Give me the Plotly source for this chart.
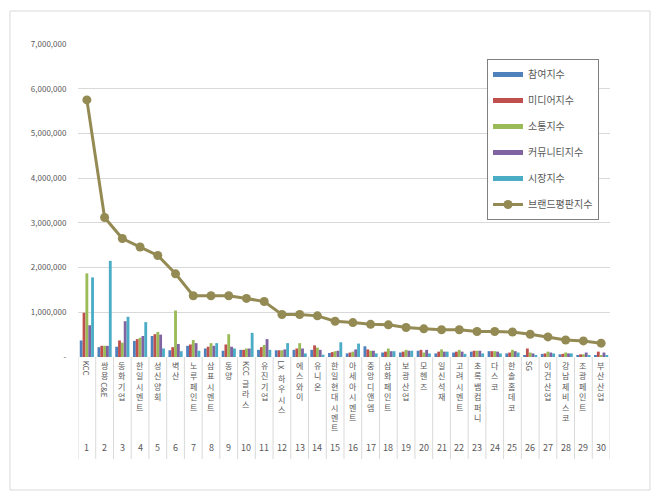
import plotly.graph_objects as go

ranks = list(range(1, 31))
names = ["KCC", "쌍용C&E", "동화기업", "한일시멘트", "성신양회", "벽산", "노루페인트", "삼표시멘트",
         "동양", "KCC글라스", "유진기업", "LX하우시스", "에스와이", "유니온", "한일현대시멘트",
         "아세아시멘트", "중앙디앤엠", "삼화페인트", "보광산업", "모헨즈", "일신석재", "고려시멘트",
         "초록뱀컴퍼니", "다스코", "한솔홈데코", "SG", "이건산업", "강남제비스코", "조광페인트", "부산산업"]

participation = [370000, 220000, 230000, 360000, 470000, 150000, 250000, 190000, 140000, 160000,
                 160000, 150000, 160000, 160000, 90000, 80000, 240000, 100000, 100000, 140000,
                 80000, 100000, 120000, 130000, 80000, 40000, 70000, 60000, 40000, 40000]
media = [990000, 250000, 370000, 400000, 510000, 220000, 280000, 230000, 280000, 160000,
         220000, 150000, 190000, 260000, 110000, 100000, 170000, 120000, 120000, 160000,
         120000, 120000, 140000, 130000, 100000, 190000, 80000, 70000, 60000, 120000]
communication = [1870000, 250000, 320000, 430000, 560000, 1040000, 380000, 310000, 510000, 190000,
                 270000, 150000, 310000, 210000, 130000, 120000, 140000, 190000, 160000, 100000,
                 170000, 160000, 140000, 130000, 160000, 100000, 120000, 100000, 60000, 40000]
community = [710000, 250000, 800000, 470000, 500000, 290000, 310000, 250000, 230000, 190000,
             400000, 170000, 190000, 160000, 140000, 170000, 140000, 130000, 140000, 160000,
             120000, 120000, 140000, 120000, 130000, 80000, 100000, 80000, 100000, 100000]
market = [1780000, 2150000, 900000, 780000, 190000, 130000, 140000, 310000, 190000, 540000,
          160000, 310000, 80000, 50000, 330000, 300000, 80000, 130000, 140000, 80000,
          120000, 70000, 80000, 80000, 100000, 40000, 80000, 80000, 40000, 40000]
brand = [5750000, 3120000, 2650000, 2460000, 2270000, 1860000, 1370000, 1370000, 1370000, 1310000,
         1240000, 950000, 950000, 920000, 800000, 770000, 730000, 720000, 660000, 630000,
         610000, 610000, 570000, 570000, 560000, 510000, 450000, 380000, 360000, 310000]

series_names = ["참여지수", "미디어지수", "소통지수", "커뮤니티지수", "시장지수"]
series_values = [participation, media, communication, community, market]
colors = ["#4F81BD", "#C0504D", "#9BBB59", "#8064A2", "#4BACC6"]
line_name = "브랜드평판지수"
line_color = "#948A54"

y_tickvals = [0, 1000000, 2000000, 3000000, 4000000, 5000000, 6000000, 7000000]
y_ticktext = ["-", "1,000,000", "2,000,000", "3,000,000", "4,000,000", "5,000,000", "6,000,000", "7,000,000"]

# page body has an 8px default margin: lay out in page pixels, minus that offset
OFF = 8
W, H = 660 - OFF, 501 - OFF
L, R, T, B = 78 - OFF, 610 - OFF, 44 - OFF, 357 - OFF  # plot area in figure pixels
FONT = "Noto Sans CJK KR, Noto Sans, sans-serif"
TXT = "#595959"

fig = go.Figure()
for i, (nm, vals, c) in enumerate(zip(series_names, series_values, colors)):
    fig.add_trace(go.Bar(x=ranks, y=vals, name=nm, marker=dict(color=c, line=dict(width=0)),
                         legendgroup=f"g{i}", showlegend=False))
    # legend-only entry drawn as a flat bar, as in the original legend
    fig.add_trace(go.Scatter(x=[None], y=[None], mode="lines", name=nm,
                             line=dict(color=c, width=5), legendgroup=f"g{i}"))
fig.add_trace(go.Scatter(x=ranks, y=brand, name=line_name, mode="lines+markers",
                         line=dict(color=line_color, width=3),
                         marker=dict(color=line_color, size=9),
                         legendgroup="g5"))

def px2paper_x(page_px):
    return (page_px - OFF - L) / (R - L)

def px2paper_y(page_py):
    return (B - (page_py - OFF)) / (B - T)

annotations = []
for r in ranks:
    annotations.append(dict(x=r, xref="x", y=px2paper_y(447), yref="paper", text=str(r),
                            showarrow=False, xanchor="center", yanchor="middle",
                            font=dict(size=9, color=TXT, family=FONT)))

def runs(s):
    out = []
    for ch in s:
        kind = "latin" if ord(ch) < 128 else "cjk"
        if out and out[-1][0] == kind:
            out[-1][1] += ch
        else:
            out.append([kind, ch])
    return out

FS = 8
for r, nm in zip(ranks, names):
    off = 2
    for kind, seg in runs(nm):
        if kind == "cjk":
            annotations.append(dict(x=r, xref="x", y=0, yref="paper", text="<br>".join(seg),
                                    showarrow=False, xanchor="center", yanchor="top",
                                    yshift=-off, borderpad=0,
                                    font=dict(size=FS, color=TXT, family=FONT)))
            off += len(seg) * FS * 1.3
        else:
            annotations.append(dict(x=r, xref="x", y=0, yref="paper", text=seg, textangle=90,
                                    showarrow=False, xanchor="center", yanchor="top",
                                    yshift=-(off + 1), borderpad=0,
                                    font=dict(size=FS, color=TXT, family=FONT)))
            off += len(seg) * FS * 0.68 + 2

shapes = []
for k in range(0, 31):
    shapes.append(dict(type="line", xref="x", yref="paper", x0=k + 0.5, x1=k + 0.5,
                       y0=0, y1=px2paper_y(459), line=dict(color="#D9D9D9", width=1)))
shapes.append(dict(type="rect", xref="paper", yref="paper",
                   x0=px2paper_x(10), x1=px2paper_x(650), y0=px2paper_y(490), y1=px2paper_y(11),
                   line=dict(color="#D9D9D9", width=1), fillcolor="rgba(0,0,0,0)", layer="below"))

fig.update_layout(
    width=W, height=H,
    margin=dict(l=L, r=W - R, t=T, b=H - B, pad=0),
    paper_bgcolor="white", plot_bgcolor="white",
    barmode="group", bargap=0.2, bargroupgap=0,
    font=dict(family=FONT, color=TXT),
    showlegend=True,
    legend=dict(x=px2paper_x(487), y=px2paper_y(59), xanchor="left", yanchor="top",
                bgcolor="white", bordercolor="#808080", borderwidth=1,
                font=dict(size=10, color=TXT, family=FONT), tracegroupgap=7,
                itemwidth=30),
    xaxis=dict(range=[0.5, 30.5], showticklabels=False, showgrid=False, zeroline=False,
               showline=False, ticks=""),
    yaxis=dict(range=[0, 7000000], tickvals=y_tickvals, ticktext=y_ticktext,
               showgrid=True, gridcolor="#D9D9D9", gridwidth=1, zeroline=False,
               showline=False, ticks="outside", ticklen=9, tickcolor="rgba(0,0,0,0)",
               tickfont=dict(size=8, color=TXT, family=FONT)),
    annotations=annotations,
    shapes=shapes,
)

fig.write_html("out.html")
